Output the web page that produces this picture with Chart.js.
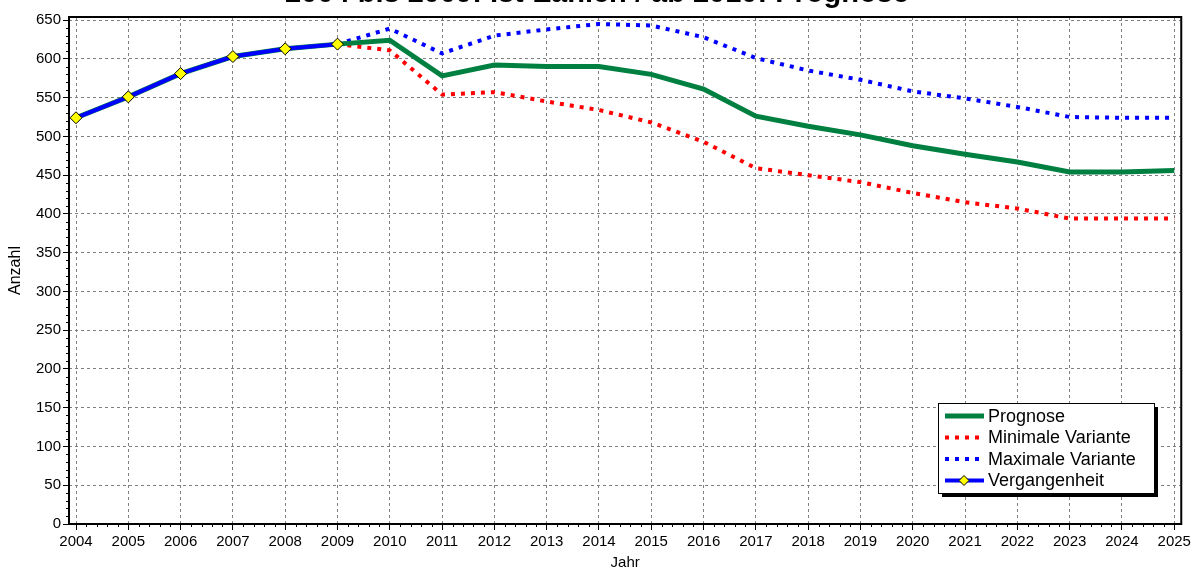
<!DOCTYPE html>
<html>
<head>
<meta charset="utf-8">
<script src="https://cdn.jsdelivr.net/npm/chart.js@4"></script>
<style>
  html, body { margin: 0; padding: 0; background: #fff; }
  #wrap { width: 1194px; height: 572px; position: relative; }
</style>
</head>
<body>
<div id="wrap"><canvas id="chart"></canvas></div>
<script>
const years = [2004, 2005, 2006, 2007, 2008, 2009, 2010, 2011, 2012, 2013, 2014,
               2015, 2016, 2017, 2018, 2019, 2020, 2021, 2022, 2023, 2024, 2025];
const vergangenheit = [524, 551, 581, 603, 613, 619];
const prognose = [524, 551, 581, 603, 613, 619, 624, 578, 592, 590, 590,
                  580, 561, 526, 513, 502, 488, 477, 467, 454, 454, 456];
const minimal = [null, null, null, null, null, 619, 611, 554, 557, 545, 534,
                 518, 493, 459, 450, 441, 427, 415, 407, 394, 394, 394];
const maximal = [null, null, null, null, null, 619, 639, 607, 630, 638, 645,
                 643, 628, 601, 585, 573, 558, 549, 538, 525, 524, 524];
const yTicks = [0, 50, 100, 150, 200, 250, 300, 350, 400, 450, 500, 550, 600, 650];
const titleText = '2004 bis 2009: Ist-Zahlen / ab 2010: Prognose';

function pts(arr) {
  return arr.map((v, i) => ({ x: years[i], y: v })).filter(p => p.y !== null);
}

const FONT = '"Liberation Sans", Arial, sans-serif';

// title (cut at the top edge), frame, minor ticks and boxed legend
const extras = {
  id: 'extras',
  afterDraw(chart) {
    const ctx = chart.ctx;
    const a = chart.chartArea;
    const xs = chart.scales.x, ys = chart.scales.y;
    ctx.save();

    ctx.fillStyle = '#000';
    ctx.font = 'bold 29px ' + FONT;
    ctx.textAlign = 'center';
    ctx.textBaseline = 'alphabetic';
    ctx.fillText(titleText, 597, 2);

    // minor ticks
    ctx.strokeStyle = '#000';
    ctx.lineWidth = 1;
    ctx.beginPath();
    for (let i = 0; i < years.length - 1; i++) {
      for (let k = 1; k < 5; k++) {
        const px = Math.round(xs.getPixelForValue(years[i] + k / 5)) + 0.5;
        ctx.moveTo(px, a.bottom);
        ctx.lineTo(px, a.bottom + 3);
      }
    }
    for (let i = 0; i < yTicks.length - 1; i++) {
      for (let k = 1; k < 5; k++) {
        const py = Math.round(ys.getPixelForValue(yTicks[i] + k * 10)) + 0.5;
        ctx.moveTo(a.left, py);
        ctx.lineTo(a.left - 3, py);
      }
    }
    ctx.stroke();

    // frame
    ctx.lineWidth = 2;
    ctx.strokeRect(a.left, a.top, a.right - a.left, a.bottom - a.top);

    // legend
    const bx = 938, by = 403, bw = 216, bh = 90;
    ctx.fillStyle = '#000';
    ctx.fillRect(bx + 4, by + 4, bw, bh);
    ctx.fillStyle = '#fff';
    ctx.fillRect(bx, by, bw, bh);
    ctx.lineWidth = 1;
    ctx.strokeStyle = '#000';
    ctx.strokeRect(bx + 0.5, by + 0.5, bw, bh);

    ctx.font = '18px ' + FONT;
    ctx.textAlign = 'left';
    ctx.textBaseline = 'middle';
    chart.data.datasets.forEach((ds, i) => {
      const ly = by + 13 + i * 21.5;
      ctx.save();
      ctx.strokeStyle = ds.borderColor;
      ctx.lineWidth = ds.borderWidth;
      ctx.setLineDash(ds.borderDash || []);
      ctx.beginPath();
      ctx.moveTo(bx + 7, ly);
      ctx.lineTo(bx + 46, ly);
      ctx.stroke();
      ctx.restore();
      if (ds.pointRadius) {
        const cx = bx + 26;
        ctx.save();
        ctx.fillStyle = ds.pointBackgroundColor;
        ctx.strokeStyle = ds.pointBorderColor;
        ctx.lineWidth = 1;
        ctx.beginPath();
        ctx.moveTo(cx, ly - 5); ctx.lineTo(cx + 5, ly); ctx.lineTo(cx, ly + 5); ctx.lineTo(cx - 5, ly);
        ctx.closePath();
        ctx.fill(); ctx.stroke();
        ctx.restore();
      }
      ctx.fillStyle = '#000';
      ctx.fillText(ds.label, bx + 50, ly + 1);
    });
    ctx.restore();
  }
};

new Chart(document.getElementById('chart'), {
  type: 'line',
  data: {
    datasets: [
      {
        label: 'Prognose', data: pts(prognose), order: 1,
        borderColor: '#008040', borderWidth: 5, pointRadius: 0
      },
      {
        label: 'Minimale Variante', data: pts(minimal), order: 3,
        borderColor: '#ff0000', borderWidth: 4, borderDash: [4, 6], pointRadius: 0
      },
      {
        label: 'Maximale Variante', data: pts(maximal), order: 2,
        borderColor: '#0000ff', borderWidth: 4, borderDash: [4, 6], pointRadius: 0
      },
      {
        label: 'Vergangenheit', data: pts(vergangenheit), order: 0,
        borderColor: '#0000ff', borderWidth: 4,
        pointStyle: 'rectRot', pointRadius: 6,
        pointBackgroundColor: '#ffff00', pointBorderColor: '#000', pointBorderWidth: 1
      }
    ]
  },
  options: {
    responsive: true,
    maintainAspectRatio: false,
    animation: false,
    events: [],
    layout: { padding: { top: 17, right: 11, left: 0, bottom: 0 } },
    plugins: {
      legend: { display: false },
      title: { display: false },
      tooltip: { enabled: false }
    },
    scales: {
      x: {
        type: 'linear',
        min: 2003.866,
        max: 2025.134,
        afterFit: s => { s.height = 48; },
        afterBuildTicks: s => { s.ticks = years.map(v => ({ value: v })); },
        ticks: {
          autoSkip: false, maxRotation: 0, padding: 3,
          color: '#000', font: { family: FONT, size: 15 },
          callback: v => String(v)
        },
        grid: { color: '#808080', tickColor: '#000', tickLength: 6, lineWidth: 1 },
        border: { display: false, dash: [3, 3] },
        title: {
          display: true, text: 'Jahr', color: '#000',
          font: { family: FONT, size: 15 }, padding: { top: 0, bottom: 0 }
        }
      },
      y: {
        min: 0,
        max: 654,
        afterFit: s => { s.width = 69; },
        afterBuildTicks: s => { s.ticks = yTicks.map(v => ({ value: v })); },
        ticks: {
          padding: 2, color: '#000', font: { family: FONT, size: 15 }
        },
        grid: { color: '#808080', tickColor: '#000', tickLength: 6, lineWidth: 1 },
        border: { display: false, dash: [3, 3] },
        title: {
          display: true, text: 'Anzahl', color: '#000',
          font: { family: FONT, size: 16 }, padding: { top: 6, bottom: 0 }
        }
      }
    }
  },
  plugins: [extras]
});
</script>
</body>
</html>
